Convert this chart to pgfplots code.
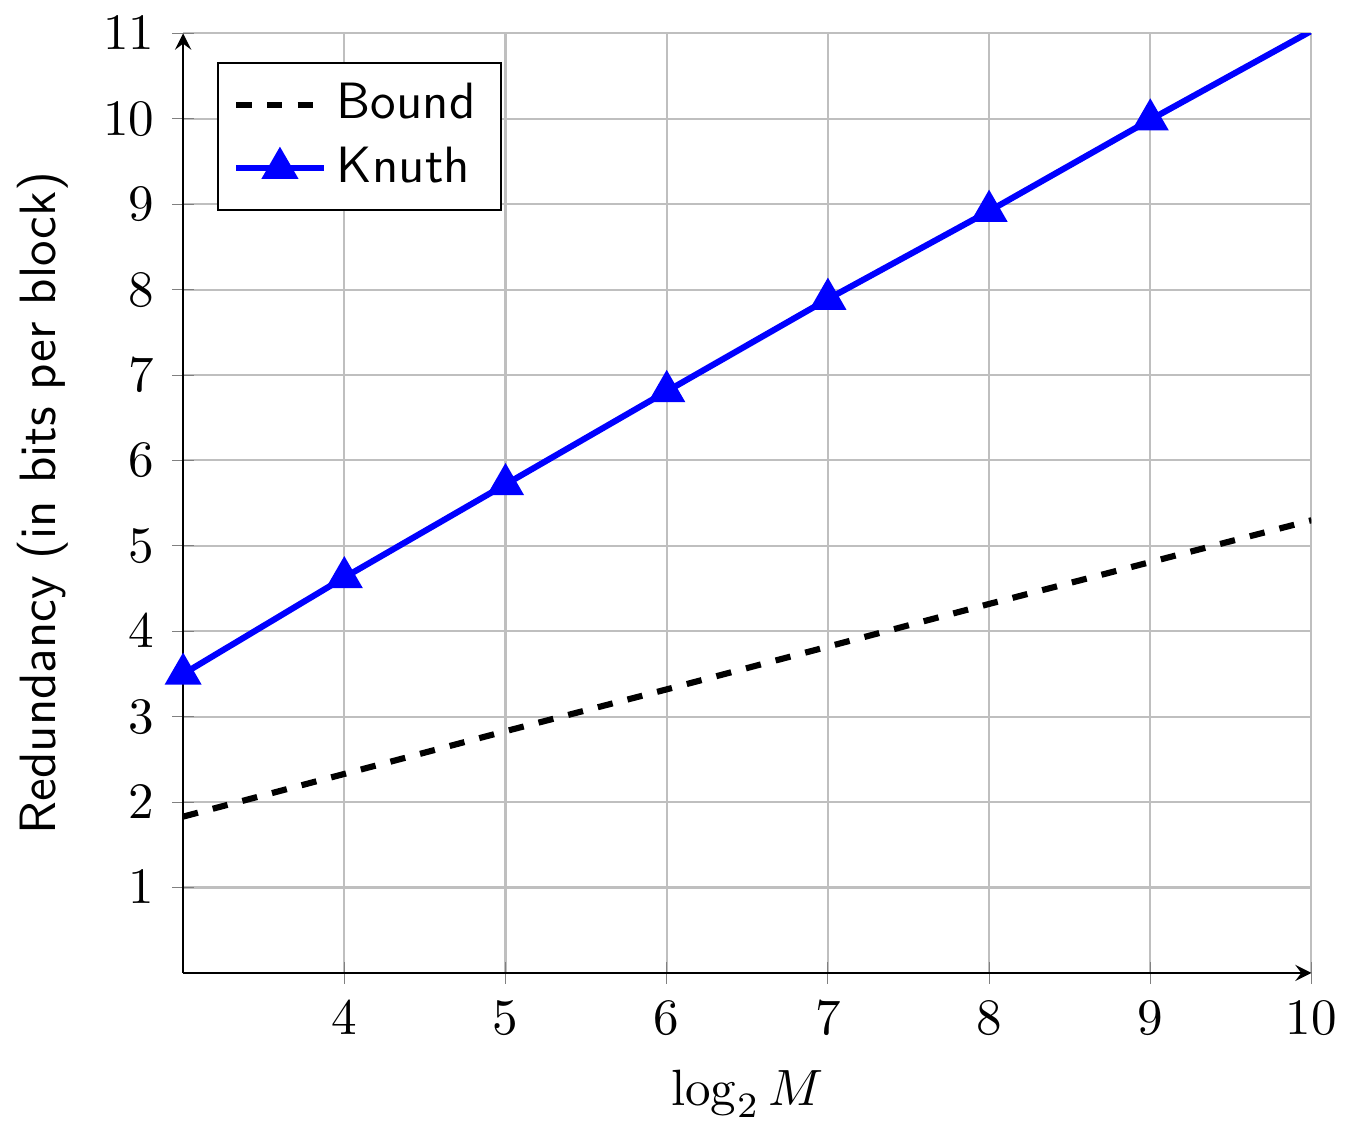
\documentclass[border=0pt]{standalone}
\usepackage{pgfplots}
\pgfplotsset{compat=1.18}
\begin{document}
\begin{tikzpicture}
\begin{axis}[
  scale only axis,
  width=221pt, height=184pt,
  axis lines=left,
  xmin=3, xmax=10, ymin=0, ymax=11,
  xtick={4,5,6,7,8,9,10},
  ytick={1,2,3,4,5,6,7,8,9,10,11},
  grid=major,
  xlabel={$\log_2 M$},
  ylabel={\sffamily Redundancy (in bits per block)},
  legend pos=north west,
  legend style={font=\sffamily, legend cell align=left},
]
\addplot[black, dashed, very thick] coordinates {
(3,1.83) (4,2.33) (5,2.83) (6,3.32) (7,3.82) (8,4.32) (9,4.81) (10,5.30)};
\addlegendentry{Bound}
\addplot[blue, very thick, mark=triangle*, mark size=3pt] coordinates {
(3,3.50) (4,4.63) (5,5.72) (6,6.81) (7,7.89) (8,8.92) (9,9.99) (10,11.03)};
\addlegendentry{Knuth}
\end{axis}
\end{tikzpicture}
\end{document}
